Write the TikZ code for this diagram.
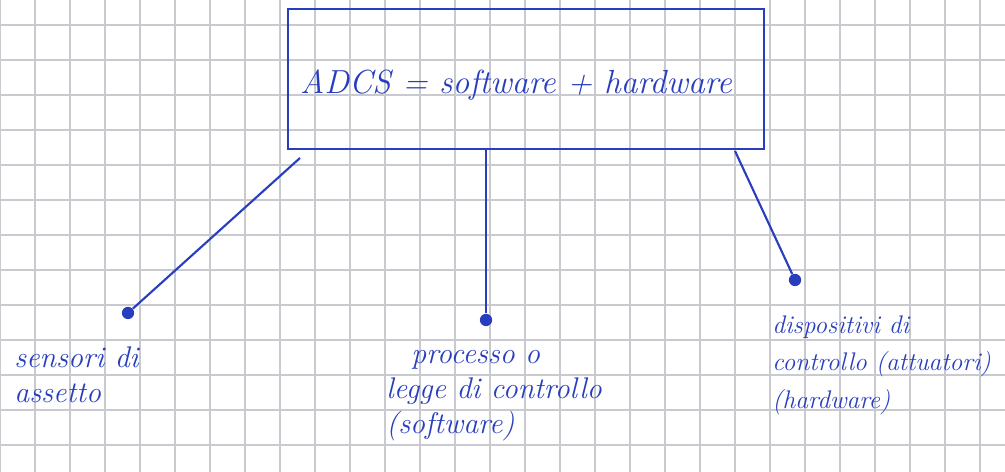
\documentclass[tikz,border=0pt]{standalone}
\usepackage{tikz}
\usetikzlibrary{positioning}
\usepackage{xcolor}
\definecolor{pen}{RGB}{40,62,190}
\definecolor{squares}{RGB}{200,202,208}

\begin{document}
\begin{tikzpicture}[
    x=0.02cm, y=-0.02cm,
    gridline/.style={squares, line width=0.7pt},
    box/.style={draw=pen, line width=1.2pt, minimum width=9.52cm, minimum height=2.8cm, text height=0.75cm, text depth=0.15cm, text=pen, font=\fontsize{19}{23}\selectfont\itshape},
    leg/.style={draw=pen, line width=1.2pt},
    dot/.style={circle, fill=pen, inner sep=0pt, minimum size=7pt},
    lbl/.style={text=pen, align=left, anchor=north west, inner sep=0pt, font=\fontsize{17}{20}\selectfont\itshape}
]
    \useasboundingbox (0,0) rectangle (1005,472);
    \fill[white] (0,0) rectangle (1005,472);
    % squared paper
    \foreach \gx in {0,35,...,1000} \draw[gridline] (\gx,0) -- (\gx,472);
    \foreach \gy in {25,60,...,470} \draw[gridline] (0,\gy) -- (1005,\gy);

    \node[box] (adcs) at (526,79) {ADCS = software + hardware\hspace*{0.4cm}};

    \node[dot] (sens) at (128,313) {};
    \node[dot] (legge) at (486,320) {};
    \node[dot] (disp) at (795,280) {};

    \coordinate (fromsens) at (300,158);
    \coordinate (fromdisp) at (735,151);

    \draw[leg] (fromsens) -- (sens);
    \draw[leg] (adcs.south -| legge) -- (legge);
    \draw[leg] (fromdisp) -- (disp);

    \node[lbl] (sensl) at (14,346) {sensori di\\assetto};
    \node[lbl] (leggel) at (386,350) {\hspace*{0.5cm}processo o\\legge di controllo\\(software)};
    \node[lbl, font=\fontsize{14.5}{21.5}\selectfont\itshape] (displ) at (772,315) {dispositivi di\\controllo (attuatori)\\(hardware)};
\end{tikzpicture}
\end{document}
